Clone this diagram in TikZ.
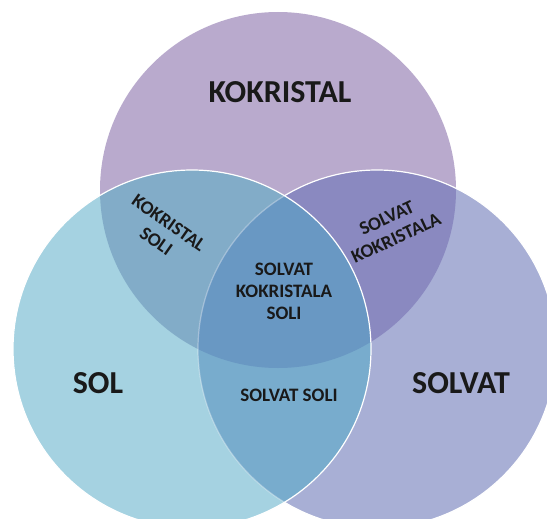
\documentclass[tikz,border=0pt]{standalone}
\usepackage{fontspec}
\setmainfont{Carlito}
\usepackage{tikz}

\definecolor{topcol}{RGB}{185,170,205}
\definecolor{leftcol}{RGB}{165,210,225}
\definecolor{rightcol}{RGB}{168,175,213}
\definecolor{tlcol}{RGB}{130,172,200}
\definecolor{trcol}{RGB}{138,137,192}
\definecolor{lrcol}{RGB}{120,172,205}
\definecolor{midcol}{RGB}{105,152,195}

\begin{document}
\begin{tikzpicture}[x=1pt, y=-1pt,
        bigtxt/.style={font={\fontsize{32}{36}\selectfont\bfseries}, text=black!90},
        smalltxt/.style={font={\fontsize{19}{22}\selectfont\bfseries}, text=black!90, align=center, inner sep=0pt},
        rim/.style={draw=white, line width=1.2pt}]
        \useasboundingbox (0,0) rectangle (547,519);
        \coordinate (ctop) at (278,190);
        \coordinate (cleft) at (192,349);
        \coordinate (cright) at (377,349);
        % plain circles
        \fill[topcol] (ctop) circle[radius=178];
        \fill[rightcol] (cright) circle[radius=179];
        \fill[leftcol] (cleft) circle[radius=179];
        % overlaps
        \begin{scope}
            \clip (ctop) circle[radius=178];
            \fill[tlcol] (cleft) circle[radius=179];
            \fill[trcol] (cright) circle[radius=179];
        \end{scope}
        \begin{scope}
            \clip (cleft) circle[radius=179];
            \fill[lrcol] (cright) circle[radius=179];
            \clip (ctop) circle[radius=178];
            \fill[midcol] (cright) circle[radius=179];
        \end{scope}
        % white rims
        \begin{scope}[even odd rule]
            \clip (-20,-20) rectangle (580,540) (cleft) circle[radius=179];
            \draw[rim] (cright) circle[radius=179];
        \end{scope}
        \begin{scope}
            \clip (cleft) circle[radius=179];
            \draw[rim, draw opacity=0.35] (cright) circle[radius=179];
        \end{scope}
        \draw[rim] (cleft) circle[radius=179];
        % labels
        \node[bigtxt] (kokristal) at (280,92) {KOKRISTAL};
        \node[bigtxt] (sol) at (98,383) {SOL};
        \node[bigtxt] (solvat) at (461,383) {SOLVAT};
        \node[smalltxt, rotate=-35] (kokrsoli) at (162.5,232) {KOKRISTAL\\SOLI};
        \node[smalltxt, rotate=25] (solvkokr) at (391.5,228) {SOLVAT\\KOKRISTALA};
        \node[smalltxt] (solvkokrsoli) at (284,291) {SOLVAT\\KOKRISTALA\\SOLI};
        \node[smalltxt] (solvsoli) at (289,395) {SOLVAT SOLI};
    \end{tikzpicture}
\end{document}
